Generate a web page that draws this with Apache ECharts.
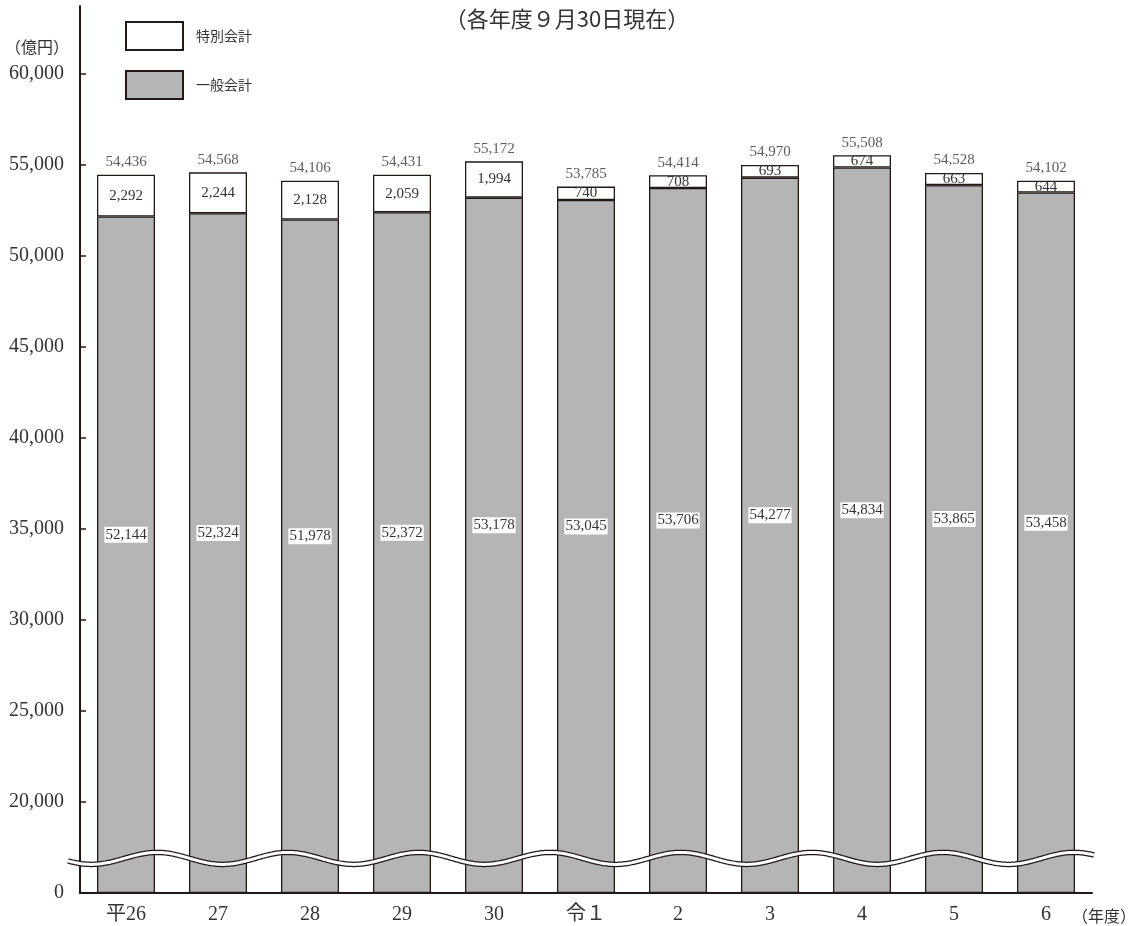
<!DOCTYPE html>
<html>
<head>
<meta charset="utf-8">
<script src="https://cdn.jsdelivr.net/npm/echarts@6/dist/echarts.min.js"></script>
<style>
  html, body { margin: 0; padding: 0; background: #fff; }
  #chart { width: 1134px; height: 926px; }
</style>
</head>
<body>
<div id="chart"></div>
<script>
// Fiscal years (Heisei 26 – Reiwa 6)
const years = ['平26', '27', '28', '29', '30', '令１', '2', '3', '4', '5', '6'];
// 一般会計 (general account), 億円
const generalAccount = [52144, 52324, 51978, 52372, 53178, 53045, 53706, 54277, 54834, 53865, 53458];
// 特別会計 (special account), 億円
const specialAccount = [2292, 2244, 2128, 2059, 1994, 740, 708, 693, 674, 663, 644];
// Value-axis tick labels
const yTickValues = [0, 20000, 25000, 30000, 35000, 40000, 45000, 50000, 55000, 60000];
// Omitted stretch of the value axis
const axisBreak = { start: 1900, end: 16900 };

const totals = generalAccount.map((v, i) => v + specialAccount[i]);

const SERIF = "'Liberation Serif', 'Noto Sans CJK JP', serif";
const SANS = "'Noto Sans CJK JP', 'Noto Sans', sans-serif";
const INK = '#231815';
const TEXT = '#333333';
const GRAY = '#b4b5b4';
const fmt = v => Number(v).toLocaleString('en-US');

const chart = echarts.init(document.getElementById('chart'), null, { renderer: 'canvas' });

const option = {
  animation: false,
  backgroundColor: '#ffffff',
  title: {
    text: '（各年度９月30日現在）',
    left: 'center',
    top: 3,
    textStyle: { fontFamily: SANS, fontSize: 22, fontWeight: 'normal', color: TEXT }
  },
  legend: {
    data: ['特別会計', '一般会計'],
    orient: 'vertical',
    left: 120,
    top: 16,
    itemWidth: 57,
    itemHeight: 28,
    itemGap: 19,
    icon: 'rect',
    selectedMode: false,
    textStyle: { fontFamily: SANS, fontSize: 14, color: TEXT, padding: [0, 0, 0, 8] }
  },
  grid: { left: 80, right: 42, top: 6, bottom: 33, outerBoundsMode: 'none', containLabel: false },
  xAxis: {
    type: 'category',
    data: years,
    axisLine: { lineStyle: { color: INK, width: 2 } },
    axisTick: { show: false },
    axisLabel: { fontFamily: SERIF, fontSize: 20, color: TEXT, margin: 12 }
  },
  yAxis: {
    type: 'value',
    min: 0,
    max: 63700,
    breaks: [{ start: axisBreak.start, end: axisBreak.end, gap: 0 }],
    breakArea: { show: false },
    axisLine: { show: true, lineStyle: { color: INK, width: 2 } },
    axisTick: { show: true, inside: true, length: 6, customValues: yTickValues, lineStyle: { color: INK, width: 1.5 } },
    axisLabel: {
      customValues: yTickValues,
      formatter: v => fmt(v),
      fontFamily: SERIF, fontSize: 20, color: TEXT, margin: 16
    },
    splitLine: { show: false }
  },
  series: [
    {
      name: '一般会計',
      type: 'bar',
      stack: 'total',
      barWidth: 58,
      data: generalAccount,
      itemStyle: { color: GRAY, borderColor: INK, borderWidth: 1.3 },
      label: {
        show: true, position: 'inside', offset: [0, -20],
        formatter: p => fmt(p.value),
        fontFamily: SERIF, fontSize: 15, color: TEXT,
        backgroundColor: '#ffffff', padding: [1, 1, 0, 1], textBorderWidth: 0
      }
    },
    {
      name: '特別会計',
      type: 'bar',
      stack: 'total',
      barWidth: 58,
      data: specialAccount,
      itemStyle: { color: '#ffffff', borderColor: INK, borderWidth: 1.3 },
      label: {
        show: true, position: 'inside',
        formatter: p => fmt(p.value),
        fontFamily: SERIF, fontSize: 15, color: TEXT, textBorderWidth: 0
      }
    },
    {
      name: '合計',
      type: 'scatter',
      data: totals,
      symbolSize: 0,
      itemStyle: { color: 'transparent' },
      label: {
        show: true, position: 'top', distance: 5,
        formatter: p => fmt(p.value),
        fontFamily: SERIF, fontSize: 15, color: TEXT
      },
      silent: true
    }
  ]
};

chart.setOption(option);

// Wavy break mark across the plot, drawn at the start of the omitted stretch
const yWave = chart.convertToPixel({ yAxisIndex: 0 }, axisBreak.start);
const xFirst = chart.convertToPixel({ xAxisIndex: 0 }, 0);
const xSecond = chart.convertToPixel({ xAxisIndex: 0 }, 1);
const xLast = chart.convertToPixel({ xAxisIndex: 0 }, years.length - 1);
const band = xSecond - xFirst;
const waveLeft = xFirst - band / 2 - 12;
const waveRight = xLast + band / 2 + 3;
const period = 131, amp = 6, crest = xFirst + 31;
const pts = [];
for (let x = waveLeft; x <= waveRight + 0.01; x += 1.5) {
  pts.push([x, yWave - amp * Math.cos(2 * Math.PI * (x - crest) / period)]);
}

chart.setOption({
  graphic: [
    { type: 'polyline', z: 100, silent: true, shape: { points: pts }, style: { stroke: INK, lineWidth: 5.5, fill: null } },
    { type: 'polyline', z: 101, silent: true, shape: { points: pts }, style: { stroke: '#ffffff', lineWidth: 3, fill: null } },
    { type: 'text', z: 102, x: 37, y: 47, style: { text: '（億円）', font: '16px ' + SANS, fill: TEXT, align: 'center', verticalAlign: 'middle' } },
    { type: 'text', z: 102, x: 1104, y: 916, style: { text: '（年度）', font: '16px ' + SANS, fill: TEXT, align: 'center', verticalAlign: 'middle' } }
  ]
});
</script>
</body>
</html>
